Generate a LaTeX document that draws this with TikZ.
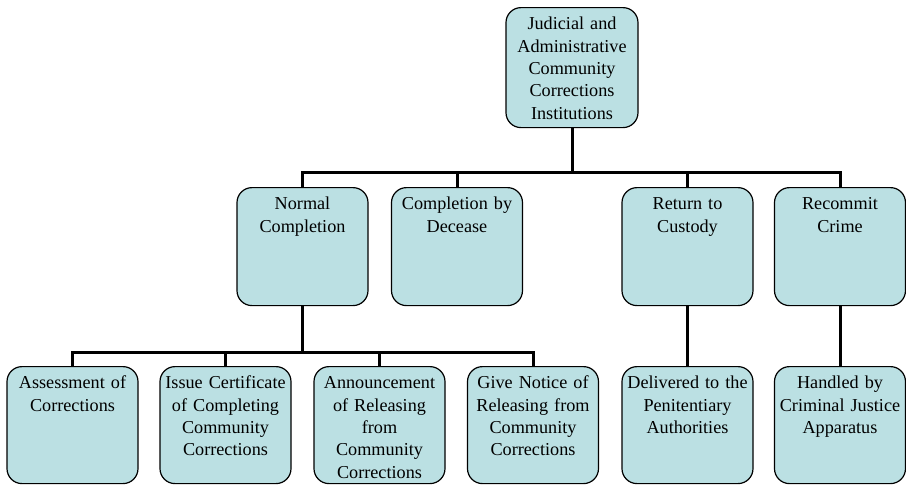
\documentclass[tikz,border=0pt]{standalone}
\usepackage{fontspec}
\setmainfont{Liberation Serif}
\definecolor{boxfill}{RGB}{187,224,227}

\begin{document}
\begin{tikzpicture}[x=0.5pt,y=-0.5pt,
	orgbox/.style={draw, fill=boxfill, rounded corners=7.5pt, line width=0.6pt,
		anchor=north, text width=63.5pt, align=center, inner xsep=1pt, inner ysep=4pt,
		text height=7pt, font=\fontsize{9.1pt}{11.2pt}\selectfont},
	headbox/.style={orgbox, text depth=45pt, text width=64pt},
	midbox/.style={orgbox, text depth=44pt},
	lowbox/.style={orgbox, text depth=43.5pt},
	conn/.style={line width=1.5pt}]
%\draw[help lines] (0,0) grid (906,484);
\useasboundingbox (0,0) rectangle (906,484);

\node[headbox] at (572,7) (inst) {Judicial and\\ Administrative\\ Community\\ Corrections\\ Institutions};

% second row
\node[midbox] at (302.5,187) (normal) {Normal\\ Completion};
\node[midbox] at (457,187) (decease) {Completion by\\ Decease};
\node[midbox] at (687.5,187) (custody) {Return to\\ Custody};
\node[midbox] at (840,187) (recommit) {Recommit\\ Crime};

% third row
\node[lowbox] at (72.5,366) (assess) {Assessment of\\ Corrections};
\node[lowbox] at (225.5,366) (certif) {Issue Certificate\\ of Completing\\ Community\\ Corrections};
\node[lowbox] at (379.5,366) (announce) {Announcement\\ of Releasing\\ from\\ Community\\ Corrections};
\node[lowbox] at (533,366) (notice) {Give Notice of\\ Releasing from\\ Community\\ Corrections};
\node[lowbox] at (687.5,366) (deliver) {Delivered to the\\ Penitentiary\\ Authorities};
\node[lowbox] at (840,366) (handled) {Handled by\\ Criminal Justice\\ Apparatus};

\coordinate (busA) at (572,172);
\coordinate (busB) at (302.5,352);

\draw[conn] (inst.south) -- (busA);
\draw[conn] (normal.north) |- (busA) -| (recommit.north);
\draw[conn] (decease.north) -- (decease.north |- busA);
\draw[conn] (custody.north) -- (custody.north |- busA);

\draw[conn] (normal.south) -- (busB);
\draw[conn] (assess.north) |- (busB) -| (notice.north);
\draw[conn] (certif.north) -- (certif.north |- busB);
\draw[conn] (announce.north) -- (announce.north |- busB);

\draw[conn] (custody.south) -- (deliver.north);
\draw[conn] (recommit.south) -- (handled.north);
\end{tikzpicture}
\end{document}
